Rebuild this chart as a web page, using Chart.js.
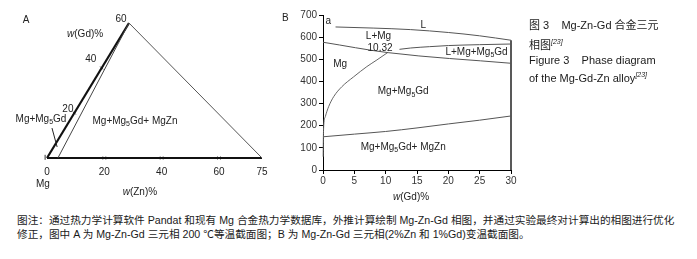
<!DOCTYPE html>
<html><head><meta charset="utf-8">
<script src="https://cdn.jsdelivr.net/npm/chart.js@4.4.1/dist/chart.umd.min.js"></script>
<style>
html,body{margin:0;padding:0;background:#fff;width:697px;height:259px;overflow:hidden;}
body{position:relative;font-family:"Liberation Sans",Arial,"Noto Sans CJK SC",sans-serif;color:#222;}
.abs{position:absolute;white-space:nowrap;line-height:14px;}
.cap{font-size:11px;color:#1a1a1a;}
.note{font-size:10.65px;color:#1a1a1a;}
sup{font-size:7px;vertical-align:5px;font-style:italic;}
</style></head>
<body>
<canvas id="cA" width="280" height="200" style="position:absolute;left:0;top:0"></canvas>
<canvas id="cB" width="280" height="200" style="position:absolute;left:270px;top:0"></canvas>
<div class="abs" style="left:282px;top:11px;font-size:10px">B</div>
<div class="abs" style="left:393px;top:190px;font-size:10px"><i>w</i>(Gd)%</div>
<div class="abs cap" style="left:529px;top:18px">图&nbsp;3&nbsp;&nbsp;&nbsp;&nbsp;Mg-Zn-Gd 合金三元</div>
<div class="abs cap" style="left:529px;top:35px">相图<sup>[23]</sup></div>
<div class="abs cap" style="left:529px;top:53px">Figure 3&nbsp;&nbsp;&nbsp;&nbsp;Phase diagram</div>
<div class="abs cap" style="left:529px;top:68px">of the Mg-Gd-Zn alloy<sup>[23]</sup></div>
<div class="abs note" style="left:17px;top:213px">图注：通过热力学计算软件 Pandat 和现有 Mg 合金热力学数据库，外推计算绘制 Mg-Zn-Gd 相图，并通过实验最终对计算出的相图进行优化</div>
<div class="abs note" style="left:17px;top:227px">修正，图中 A 为 Mg-Zn-Gd 三元相 200 ℃等温截面图；B 为 Mg-Zn-Gd 三元相(2%Zn 和 1%Gd)变温截面图。</div>
<script>
// ---------- Panel A: ternary isothermal section at 200 °C ----------
const znTickValues = [0, 20, 40, 60, 75];      // w(Zn)% along base
const gdTickValues = [20, 40, 60];             // w(Gd)% along left edge
const znMax = 75, gdMax = 60;
const apexZn = 28.6;                           // horizontal position of the Gd apex on the Zn scale
// composition points [Zn, Gd]
const edgeBase  = [[0, 0], [75, 0]];
const edgeLeft  = [[0, 0], [0, 60]];
const edgeRight = [[0, 60], [75, 0]];
const boundaryMgMg5Gd = [[3.8, 0], [0, 60]];
const leaderLine = [[-4.6, 13.3], [1.2, 4.9]];
const originMark = [[-0.8, 0.3]];

// ---------- Panel B: vertical section (Mg-2%Zn-x%Gd) ----------
const gdTicksB = [0, 5, 10, 15, 20, 25, 30];
const tempTicksB = [0, 100, 200, 300, 400, 500, 600, 700];
const liquidusGd = [2, 8, 14, 20, 25, 30];
const liquidusT  = [646, 641, 634, 621, 606, 586];
const solidusGd  = [0, 10.4, 30];
const solidusT   = [577, 530, 482];
const upperGd    = [12.2, 14, 17, 20, 25, 30];
const upperT     = [545, 551, 557, 562, 566, 569];
const solvusGd   = [0.02, 0.06, 0.12, 0.37, 0.9, 1.7, 3.0, 4.9, 7.0, 8.6, 10.4];
const solvusT    = [60, 150, 203, 241, 286, 331, 376, 421, 467, 497, 532];
const lowerGd    = [0, 5, 10, 15, 20, 25, 30];
const lowerT     = [150, 162, 174, 190, 208, 225, 244];
const borderGd   = [30, 30];
const borderT    = [0, 586];

const FAM = '"Liberation Sans", Arial, sans-serif';

function toXY(p){ return {x: p[0] + p[1] * apexZn / gdMax, y: p[1]}; }
function zip(xs, ys){ return xs.map((v,i)=>({x:v, y:ys[i]})); }

function drawRich(ctx, str, cx, cy, size, color){
  const segs=[]; let i=0, buf='';
  while(i<str.length){
    const c=str[i];
    if(c==='_'){ if(buf){segs.push({t:buf});buf='';} segs.push({t:str[i+1],sub:true}); i+=2; continue; }
    if(c==='*'){ if(buf){segs.push({t:buf});buf='';} const j=str.indexOf('*',i+1); segs.push({t:str.slice(i+1,j),it:true}); i=j+1; continue; }
    buf+=c; i++;
  }
  if(buf) segs.push({t:buf});
  const fontOf=s=>(s.it?'italic ':'')+(s.sub?Math.round(size*0.7):size)+'px '+FAM;
  let w=0; segs.forEach(s=>{ctx.font=fontOf(s); s.w=ctx.measureText(s.t).width; w+=s.w;});
  let x=cx-w/2;
  ctx.fillStyle=color; ctx.textBaseline='middle'; ctx.textAlign='left';
  segs.forEach(s=>{ctx.font=fontOf(s); ctx.fillText(s.t,x,cy+(s.sub?size*0.3:0)); x+=s.w;});
}
function textPlugin(labels){
  return {id:'txt', afterDraw(chart){
    const ctx=chart.ctx, sx=chart.scales.x, sy=chart.scales.y;
    ctx.save();
    labels.forEach(l=>drawRich(ctx,l.text,sx.getPixelForValue(l.x),sy.getPixelForValue(l.y),l.size||10,l.color||'#222'));
    ctx.restore();
  }};
}

// labels for panel A (plot coordinates)
const labelsA = [
  {text:'A', x:-7.3, y:61.3},
  {text:'60', x:25.8, y:61.8},
  {text:'*w*(Gd)%', x:13.3, y:55.1},
  {text:'40', x:15.3, y:44},
  {text:'20', x:7.3, y:21.8},
  {text:'Mg+Mg_5Gd', x:-2.1, y:17.3},
  {text:'Mg+Mg_5Gd+ MgZn', x:30.7, y:16.4},
  {text:'Mg', x:-1.4, y:-11.6},
  {text:'*w*(Zn)%', x:32.4, y:-15.1}
].concat(znTickValues.map(v=>({text:String(v), x:v, y:-6.2})));

const lineA = (pts, color, width) => ({data:pts.map(toXY), showLine:true, borderColor:color, borderWidth:width, pointRadius:0, fill:false});
new Chart(document.getElementById('cA'), {
  type:'scatter',
  data:{datasets:[
    lineA(edgeRight, '#555', 1),
    lineA(boundaryMgMg5Gd, '#444', 1),
    lineA(leaderLine, '#222', 1),
    lineA(edgeBase, '#111', 2.2),
    lineA(edgeLeft, '#111', 2.2),
    {data:znTickValues.slice(1,4).map(v=>toXY([v,0])), pointStyle:'crossRot', pointRadius:2, borderColor:'#222', borderWidth:1, showLine:false},
    {data:gdTickValues.slice(0,2).map(v=>toXY([0,v])), pointStyle:'crossRot', pointRadius:2, borderColor:'#222', borderWidth:1, showLine:false},
    {data:originMark.map(toXY), pointStyle:'line', rotation:90, pointRadius:2.5, borderColor:'#333', borderWidth:1, showLine:false}
  ]},
  options:{
    responsive:false, animation:false, clip:false,
    layout:{padding:{left:47,right:18,top:23,bottom:42}},
    plugins:{legend:{display:false}, tooltip:{enabled:false}},
    scales:{x:{type:'linear',min:0,max:znMax,display:false}, y:{type:'linear',min:0,max:gdMax,display:false}}
  },
  plugins:[textPlugin(labelsA)]
});

// labels for panel B (data coordinates)
const labelsB = [
  {text:'a', x:0.85, y:672},
  {text:'L', x:16.0, y:655},
  {text:'L+Mg', x:8.85, y:605},
  {text:'10.32', x:9.1, y:550},
  {text:'L+Mg+Mg_5Gd', x:24.5, y:531},
  {text:'Mg', x:2.75, y:479},
  {text:'Mg+Mg_5Gd', x:12.8, y:354},
  {text:'Mg+Mg_5Gd+ MgZn', x:12.8, y:105}
];
const lineB = (xs, ys, color, width) => ({data:zip(xs,ys), showLine:true, borderColor:color, borderWidth:width, pointRadius:0, fill:false, cubicInterpolationMode:'monotone'});
const tickFont = {size:10, family:FAM};
new Chart(document.getElementById('cB'), {
  type:'scatter',
  data:{datasets:[
    lineB(liquidusGd, liquidusT, '#555', 1),
    lineB(solidusGd, solidusT, '#555', 1),
    lineB(upperGd, upperT, '#555', 1),
    lineB(solvusGd, solvusT, '#666', 1),
    lineB(lowerGd, lowerT, '#555', 1),
    {data:zip(borderGd,borderT), showLine:true, borderColor:'#222', borderWidth:1.5, pointRadius:0, cubicInterpolationMode:'default', tension:0}
  ]},
  options:{
    responsive:false, animation:false, clip:false,
    layout:{padding:{left:13,right:39,top:15,bottom:10}},
    plugins:{legend:{display:false}, tooltip:{enabled:false}},
    scales:{
      x:{type:'linear', min:0, max:30, afterBuildTicks:s=>{s.ticks=gdTicksB.map(v=>({value:v}));},
         ticks:{font:tickFont, color:'#333', padding:1, maxRotation:0, autoSkip:false},
         grid:{drawOnChartArea:false, tickLength:4, color:'#000'}, border:{color:'#000'},
         afterFit:s=>{s.height=20;}},
      y:{type:'linear', min:0, max:700, afterBuildTicks:s=>{s.ticks=tempTicksB.map(v=>({value:v}));},
         ticks:{font:tickFont, color:'#333', padding:2, autoSkip:false},
         grid:{drawOnChartArea:false, tickLength:4, color:'#000'}, border:{color:'#000'},
         afterFit:s=>{s.width=40;}}
    }
  },
  plugins:[textPlugin(labelsB)]
});
</script>
</body></html>
